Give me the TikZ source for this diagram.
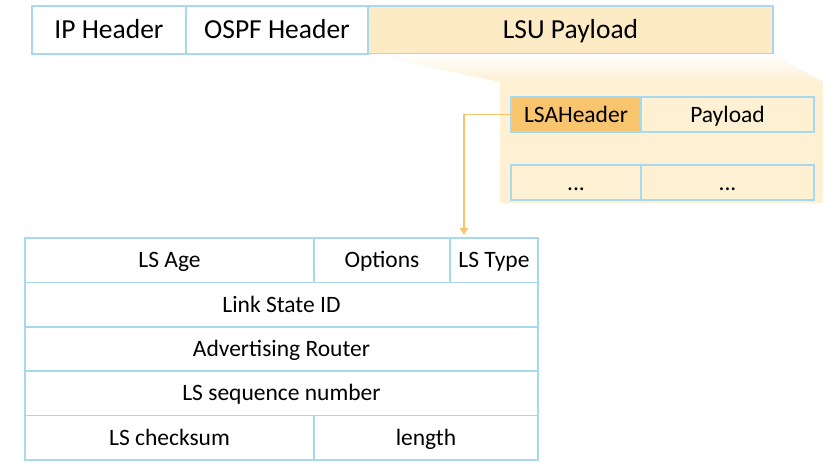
\documentclass[tikz,border=0pt]{standalone}
\usepackage{fontspec}
\setmainfont{Carlito}
\usetikzlibrary{positioning,arrows.meta}
\definecolor{cellline}{HTML}{A6D8EE}
\definecolor{lsufill}{HTML}{FDEBC6}
\definecolor{boxfill}{HTML}{FDF0D3}
\definecolor{hdrfill}{HTML}{F8C46E}
\definecolor{arrowline}{HTML}{F7C36B}

\begin{document}
\begin{tikzpicture}[x=1pt,y=-1pt,
    field/.style={draw=cellline, line width=1.5pt, outer sep=0pt, inner sep=0pt,
      anchor=north west, text height=15.1pt, text depth=0pt,
      font=\fontsize{23.5}{26}\selectfont},
    topfield/.style={field, minimum height=48pt, text height=17.7pt,
      font=\fontsize{27.5}{30}\selectfont},
    lsacell/.style={field, minimum height=35pt},
    rowcell/.style={field, minimum height=44.4pt}]

      \useasboundingbox (0,0) rectangle (839,471);

      % packet
      \node[topfield, minimum width=154pt] (ip) at (32,6) {IP Header};
      \node[topfield, minimum width=182pt, right=0pt of ip] (ospf) {OSPF Header};
      \node[topfield, minimum width=405pt, fill=lsufill, right=0pt of ospf] (lsu) {LSU Payload};

      % zoomed payload
      \coordinate (zoom_nw) at (500,82);
      \coordinate (zoom_se) at (823,203);
      \shade[top color=white, bottom color=boxfill]
      (lsu.south west) -- (lsu.south east) -- (zoom_se |- zoom_nw) -- (zoom_nw) -- cycle;
      \fill[boxfill] (zoom_nw) rectangle (zoom_se);

      \node[lsacell, minimum width=130pt, fill=hdrfill] (lsa_hdr) at (511,97) {LSAHeader};
      \node[lsacell, minimum width=173pt, right=0pt of lsa_hdr] (lsa_pay) {Payload};
      \node[lsacell, minimum width=130pt] (more_hdr) at (511,165) {...};
      \node[lsacell, minimum width=173pt, right=0pt of more_hdr] (more_pay) {...};

      % LSA header fields
      \node[rowcell, minimum width=289pt] (ls_age) at (25,238) {LS Age};
      \node[rowcell, minimum width=136pt, right=0pt of ls_age] (options) {Options};
      \node[rowcell, minimum width=88pt, right=0pt of options] (ls_type) {LS Type};
      \node[rowcell, minimum width=513pt, below=0pt of ls_age.south west, anchor=north west] (ls_id) {Link State ID};
      \node[rowcell, minimum width=513pt, below=0pt of ls_id] (adv_rtr) {Advertising Router};
      \node[rowcell, minimum width=513pt, below=0pt of adv_rtr] (ls_seq) {LS sequence number};
      \node[rowcell, minimum width=289pt, below=0pt of ls_seq.south west, anchor=north west] (ls_cksum) {LS checksum};
      \node[rowcell, minimum width=224pt, right=0pt of ls_cksum] (ls_len) {length};

      \coordinate (drop) at (464,235);
      \draw[arrowline, line width=1.2pt, -{Triangle[width=8pt,length=7pt]}]
      (lsa_hdr.west) -| (drop);
    \end{tikzpicture}
\end{document}
